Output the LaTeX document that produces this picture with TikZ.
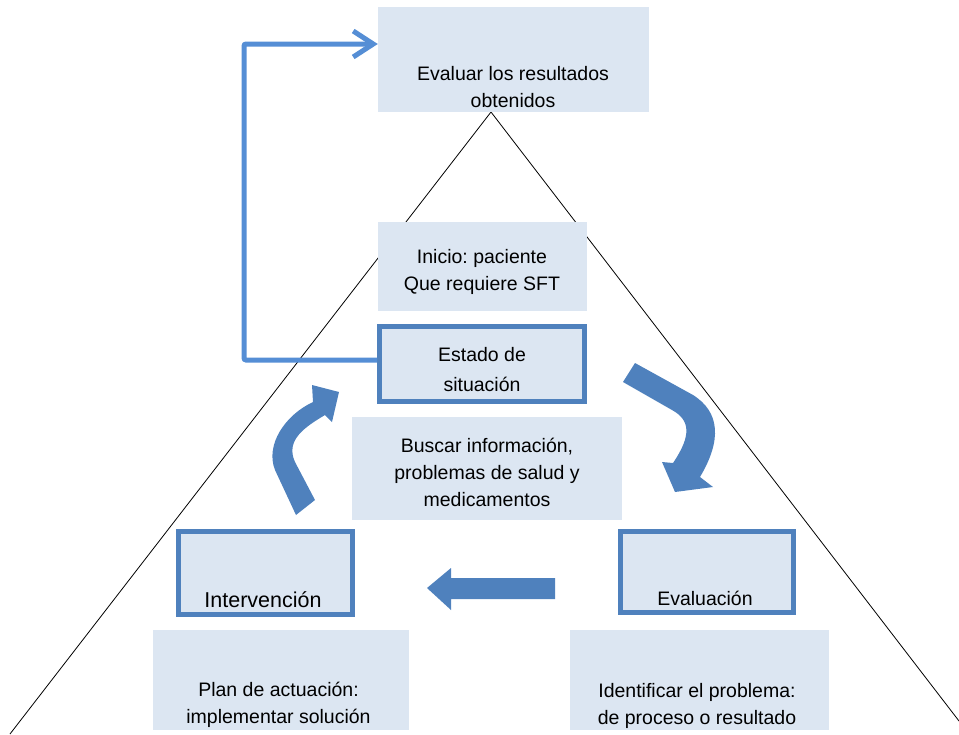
\documentclass[tikz,border=0pt]{standalone}
\usepackage{fontspec}
\setmainfont{Liberation Sans}
\usetikzlibrary{arrows.meta}
\definecolor{boxfill}{RGB}{220,230,242}
\definecolor{boxline}{RGB}{79,129,189}
\definecolor{backline}{RGB}{85,142,213}
\frenchspacing

\tikzset{
  plainbox/.style={fill=boxfill, draw=none, inner sep=0pt},
  framebox/.style={fill=boxfill, draw=boxline, line width=5pt, inner sep=0pt},
  boxtext/.style={align=center, inner sep=0pt, font=\fontsize{19.5}{27}\selectfont},
  bigarrow/.style={fill=boxline, draw=none},
  backarrow/.style={draw=backline, line width=5pt, -{Straight Barb[length=20pt,width=26pt]}},
}

\begin{document}
\begin{tikzpicture}[x=1pt,y=-1pt]
\useasboundingbox (0,0) rectangle (959,734);
% pyramid behind everything
\coordinate (apex) at (491,112);
\coordinate (baseL) at (10,734);
\coordinate (baseR) at (959,721);
\draw[black, line width=0.8pt] (baseL) -- (apex) -- (baseR);

% boxes
\node[plainbox, minimum width=271pt, minimum height=105pt] (evb) at (513.5,59.5) {};
\node[plainbox, minimum width=209pt, minimum height=89pt] (inb) at (482.5,266.5) {};
\node[framebox, minimum width=205pt, minimum height=75pt] (esb) at (482,364) {};
\node[plainbox, minimum width=270pt, minimum height=103pt] (bub) at (487,468.5) {};
\node[framebox, minimum width=174pt, minimum height=83pt] (ivb) at (265.5,573) {};
\node[framebox, minimum width=173pt, minimum height=81pt] (elb) at (707,572) {};
\node[plainbox, minimum width=256pt, minimum height=100pt] (plb) at (281,680) {};
\node[plainbox, minimum width=259pt, minimum height=100pt] (idb) at (699.5,680) {};

% texts
\node[boxtext] (evt) at (513,87) {Evaluar los resultados\\obtenidos};
\node[boxtext] (int) at (482,271.5) {Inicio: paciente\\Que requiere SFT};
\node[boxtext, font=\fontsize{19.5}{30}\selectfont] (est) at (482,370) {Estado de\\situación};
\node[boxtext] (but) at (487,472.5) {Buscar información,\\problemas de salud y\\medicamentos};
\node[boxtext, anchor=base, font=\fontsize{21.5}{27}\selectfont] (ivt) at (263,607) {Intervención};
\node[boxtext, anchor=base] (elt) at (705,605) {Evaluación};
\node[boxtext] (plt) at (278.5,705) {Plan de actuación:\\implementar solución};
\node[boxtext] (idt) at (697,706) {Identificar el problema:\\de proceso o resultado};

% feedback loop back to the top
\coordinate (fbk) at (244,44);
\draw[backarrow, rounded corners=2pt] ([yshift=4pt]esb.west) -| (fbk) -- (evb.west |- fbk);

% block arrows of the cycle
\fill[bigarrow] (635,363) -- (693,395) .. controls (720,412) and (722,440) .. (700,477)
  -- (713,487) -- (675,492) -- (662,462) -- (673,463)
  .. controls (692,435) and (690,420) .. (672,410) -- (623,382) -- cycle;
\fill[bigarrow] (555,578) -- (451,578) -- (451,568) -- (427,588) -- (451,610)
  -- (451,599) -- (555,599) -- cycle;
\fill[bigarrow] (296,515) -- (275,470) .. controls (265,445) and (285,415) .. (313,402)
  -- (312,385) -- (339,392) -- (332,422) -- (325,415)
  .. controls (305,427) and (285,440) .. (295,462) -- (315,500) -- cycle;

\end{tikzpicture}
\end{document}
